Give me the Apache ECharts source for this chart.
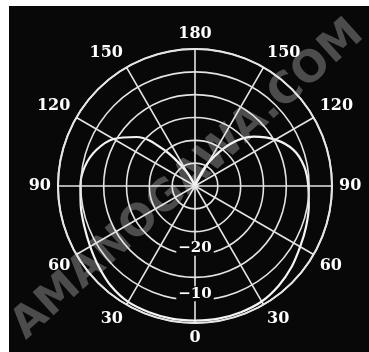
<!DOCTYPE html>
<html><head><meta charset="utf-8">
<script src="https://cdn.jsdelivr.net/npm/echarts@6/dist/echarts.min.js"></script>
<style>
html,body{margin:0;padding:0;background:#fff;overflow:hidden;}
#bg{position:absolute;left:9px;top:6px;width:360px;height:346px;background:#080808;}
#chart{position:absolute;left:0;top:0;width:369px;height:352px;}
</style></head><body>
<div id="bg"></div><div id="chart"></div>
<script>
// Angle from boresight (degrees), measured on each side of the pattern
const angles    = [0, 10, 20, 30, 40, 50, 60, 70, 80, 90, 100, 110, 120, 130, 140, 150, 160, 170, 180];
// Relative gain (dB), left half of the plot
const leftGain  = [-0.5, -0.5, -0.6, -0.7, -1.4, -2.5, -3.5, -4.2, -4.6, -4.9, -5.5, -7.0, -9.4, -13.3, -20, -26.5, -29.5, -30, -30];
// Relative gain (dB), right half of the plot
const rightGain = [-0.5, -0.5, -0.6, -0.8, -1.5, -2.4, -3.4, -4.1, -4.7, -5.2, -5.7, -7.0, -9.7, -13.2, -18, -24, -28.5, -30, -30];
// Radial tick labels shown
const radiusLabels = [-10, -20];
const watermark = 'AMANOGAWA.COM';

const chart = echarts.init(document.getElementById('chart'), null, {renderer: 'canvas'});
const gridColor = '#e4e4e4';
chart.setOption({
  backgroundColor: 'transparent',
  animation: false,
  graphic: [{
    type: 'text', z: -10, zlevel: 0,
    x: 188, y: 180, rotation: 0.73,
    style: {
      text: watermark, fill: '#4c4c4c',
      font: 'bold 43px "DejaVu Sans"',
      align: 'center', verticalAlign: 'middle'
    }
  }],
  polar: {center: [195, 186], radius: 137},
  angleAxis: {
    type: 'value', min: 0, max: 360, interval: 30,
    startAngle: 270, clockwise: true,
    axisLine: {lineStyle: {color: '#f0f0f0', width: 2}},
    axisTick: {show: false},
    splitLine: {lineStyle: {color: gridColor, width: 1.6}},
    axisLabel: {
      color: '#ffffff', fontFamily: 'DejaVu Serif', fontWeight: 'bold', fontSize: 16, margin: 7,
      formatter: v => (v >= 360 ? '' : String(v > 180 ? 360 - v : v))
    }
  },
  radiusAxis: {
    type: 'value', min: -30, max: 0, interval: 5,
    axisLine: {show: false}, axisTick: {show: false},
    splitLine: {lineStyle: {color: gridColor, width: 1.6}},
    z: 5,
    axisLabel: {
      margin: 0, align: 'center', verticalAlign: 'top', padding: [9, 0, 0, 0],
      formatter: v => radiusLabels.includes(v) ? '{t|' + String(v).replace('-', '\u2212') + '}' : '',
      rich: {t: {color: '#ffffff', backgroundColor: '#080808', fontFamily: 'DejaVu Serif', fontWeight: 'bold', fontSize: 15, padding: [0, 2, 0, 2]}}
    }
  },
  series: [
    {type: 'line', coordinateSystem: 'polar', smooth: 0.35, symbol: 'none', z: 3,
     lineStyle: {color: '#f4f4f4', width: 2.2}, data: angles.map((a, i) => [leftGain[i], a])},
    {type: 'line', coordinateSystem: 'polar', smooth: 0.35, symbol: 'none', z: 3,
     lineStyle: {color: '#f4f4f4', width: 2.2}, data: angles.map((a, i) => [rightGain[i], 360 - a])}
  ]
});
</script>
</body></html>
